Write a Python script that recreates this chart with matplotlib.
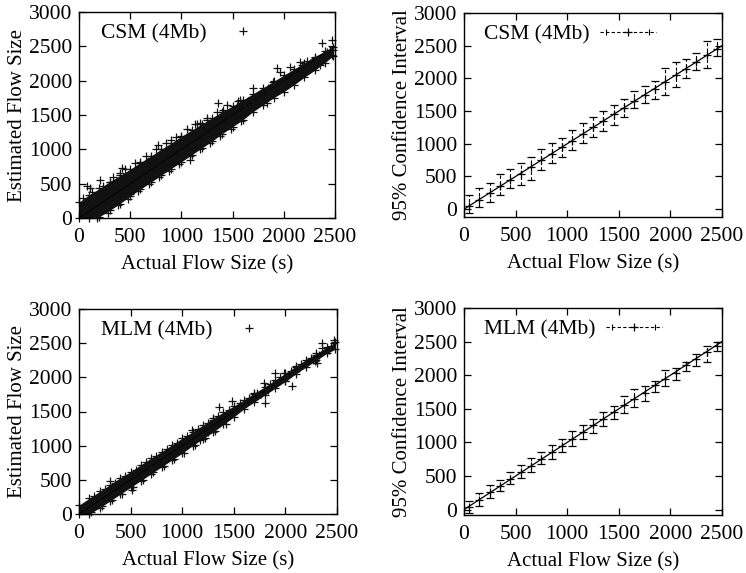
import numpy as np
import matplotlib.pyplot as plt
from matplotlib.lines import Line2D
from matplotlib.legend_handler import HandlerLine2D, HandlerTuple

plt.rcParams['font.family'] = ['Liberation Serif', 'DejaVu Serif']
plt.rcParams['font.size'] = 15.5
plt.rcParams['axes.labelsize'] = 15

# scatter panels: dense core of the cloud (lower / upper edge) and the loose points around it
band_x = [0, 100, 200, 300, 400, 500, 600, 700, 800, 900, 1000, 1100, 1200,
          1300, 1400, 1500, 1600, 1700, 1800, 1900, 2000, 2100, 2200, 2300, 2400, 2480]

csm_hi = [230, 340, 430, 530, 620, 710, 810, 900, 1000, 1090, 1190, 1280, 1370,
          1460, 1550, 1630, 1720, 1810, 1900, 1990, 2080, 2170, 2260, 2350, 2430, 2490]
csm_lo = [0, 0, 20, 110, 210, 320, 420, 520, 620, 720, 820, 920, 1020,
          1120, 1230, 1330, 1430, 1550, 1650, 1750, 1840, 1940, 2050, 2150, 2260, 2360]
csm_px = [1361, 1084, 1133, 775, 1849, 1930, 1963, 2370, 2467, 2467, 2353, 2158, 2174,
          2093, 1995, 1898, 1800, 1702, 1686, 1572, 1507, 1475, 1410, 1247, 1182, 1833, 2060,
          2256, 2305, 2240, 2028, 1930, 1735, 1621, 1540, 75, 107, 400, 417, 205, 42, 2420,
          2480, 2300, 2200, 2120, 1760, 1650, 1870, 300, 600, 900, 1000, 700, 500,
          130, 230, 330, 450, 550, 650, 750, 850, 950, 1050, 1150, 1250, 1350, 1450, 1550,
          180, 280, 380, 480, 580, 680, 780, 880, 980, 1080, 1180, 1280, 1380, 1480, 1580,
          1650, 1720, 1780, 1860, 1920, 1980, 2040, 2110, 2180, 2230, 2280, 2340, 2400, 2450]
csm_py = [1672, 848, 1372, 1066, 1890, 2181, 2133, 2545, 2593, 2375, 2230, 2278, 2230,
          2012, 1963, 1987, 1793, 1890, 1721, 1721, 1575, 1478, 1575, 1430, 1381, 1672, 2205,
          2254, 2327, 2157, 1939, 1866, 1769, 1624, 1624, 460, 436, 654, 727, 557, 290, 2420,
          2450, 2250, 2130, 2060, 1700, 1590, 1800, 520, 800, 1130, 1180, 880, 350,
          380, 460, 590, 720, 800, 900, 1000, 1090, 1180, 1290, 1370, 1460, 1540, 1640, 1710,
          0, 80, 190, 270, 390, 490, 590, 690, 790, 900, 1000, 1090, 1200, 1300, 1410,
          1700, 1660, 1760, 1830, 1920, 1890, 2000, 2080, 2130, 2280, 2200, 2300, 2350, 2440]

mlm_hi = [130, 230, 330, 430, 530, 620, 720, 820, 910, 1010, 1110, 1200, 1300,
          1400, 1490, 1580, 1670, 1770, 1860, 1960, 2060, 2160, 2260, 2350, 2440, 2510]
mlm_lo = [0, 0, 90, 190, 290, 390, 490, 590, 690, 790, 890, 1000, 1100,
          1200, 1310, 1420, 1540, 1640, 1740, 1840, 1940, 2050, 2150, 2250, 2350, 2410]
mlm_px = [1352, 1805, 1788, 2063, 2354, 2354, 2468, 2290, 2306, 2209, 1983, 1902, 1724,
          1562, 1481, 301, 511, 1174, 1093, 2400, 2440, 2250, 2150, 2050, 1950, 1850, 1700,
          1650, 2000, 2100, 2300, 1300, 1250, 900, 800, 700, 400, 200, 100,
          150, 250, 350, 450, 550, 650, 750, 850, 950, 1050, 1150, 1250, 1350, 1450,
          120, 220, 320, 420, 520, 620, 720, 820, 920, 1020, 1120, 1220, 1320, 1420,
          1550, 1620, 1680, 1760, 1830, 1880, 1940, 2020, 2080, 2130, 2200, 2270, 2330, 2420]
mlm_py = [1566, 1624, 1917, 1868, 2502, 2429, 2551, 2234, 2210, 2210, 2063, 2063, 1771,
          1624, 1649, 478, 356, 1088, 1234, 2380, 2460, 2290, 2190, 2100, 2010, 1900, 1760,
          1700, 1950, 2150, 2330, 1380, 1200, 960, 880, 690, 480, 260, 180,
          260, 360, 460, 560, 650, 760, 850, 950, 1040, 1140, 1240, 1330, 1440, 1520,
          30, 120, 210, 300, 400, 500, 610, 700, 800, 900, 1010, 1110, 1210, 1320,
          1560, 1620, 1700, 1760, 1820, 1900, 1950, 2000, 2090, 2140, 2190, 2260, 2320, 2400]

# confidence interval panels
ci_x = [50, 150, 250, 350, 450, 550, 650, 750, 850, 950, 1050, 1150, 1250,
        1350, 1450, 1550, 1650, 1750, 1850, 1950, 2050, 2150, 2250, 2350, 2450]
csm_mean = [45, 145, 250, 355, 445, 545, 650, 750, 845, 945, 1045, 1150, 1255,
            1350, 1450, 1545, 1650, 1745, 1840, 1945, 2050, 2150, 2245, 2350, 2450]
csm_up = [215, 317, 404, 537, 608, 710, 802, 915, 1007, 1083, 1211, 1313, 1415,
          1502, 1594, 1686, 1814, 1886, 1967, 2156, 2248, 2299, 2386, 2565, 2601]
csm_dn = [-66, 26, 112, 215, 317, 368, 445, 598, 700, 802, 904, 1017, 1109,
          1201, 1288, 1415, 1543, 1630, 1691, 1748, 1865, 2003, 2121, 2156, 2335]
mlm_mean = [45, 150, 255, 355, 455, 555, 655, 755, 855, 950, 1055, 1155, 1255,
            1355, 1450, 1560, 1650, 1740, 1850, 1950, 2040, 2150, 2240, 2340, 2440]
mlm_up = [125, 249, 359, 448, 558, 658, 772, 857, 957, 1046, 1171, 1256, 1355,
          1455, 1545, 1694, 1794, 1844, 1918, 2083, 2103, 2202, 2317, 2442, 2501]
mlm_dn = [-50, 60, 174, 274, 374, 473, 558, 673, 757, 857, 947, 1046, 1146,
          1246, 1345, 1445, 1520, 1619, 1744, 1844, 1933, 2068, 2142, 2192, 2367]

fig = plt.figure(figsize=(7.46, 5.73), dpi=100)
W, H = 746, 573


def add_ax(l, t, r, b):
    return fig.add_axes([l / W, 1 - b / H, (r - l) / W, (b - t) / H])


def style(ax, ylim):
    ax.set_xlim(0, 2500)
    ax.set_ylim(*ylim)
    ax.set_xticks([0, 500, 1000, 1500, 2000, 2500])
    ax.set_yticks([0, 500, 1000, 1500, 2000, 2500, 3000])
    ax.tick_params(direction='in', top=True, right=True, length=5, width=0.9, pad=5)
    ax.tick_params(axis='x', pad=7)
    for s in ax.spines.values():
        s.set_linewidth(1.0)
    ax.set_xlabel('Actual Flow Size (s)', labelpad=6)


def scatter_panel(ax, name, lo, hi, px, py):
    ax.axline((0, 0), slope=1, color='k', lw=0.6)
    ax.fill_between(band_x, lo, hi, color='#111111', lw=0)
    kw = dict(ls='none', marker='+', color='#111111', ms=6, mew=0.9, clip_on=False)
    ax.plot(band_x, lo, **kw)
    ax.plot(band_x, hi, **kw)
    pts, = ax.plot(px, py, label=name, **kw)
    style(ax, (0, 3000))
    ax.set_ylabel('Estimated Flow Size', labelpad=1)
    ax.legend(handles=[pts], loc='upper left', bbox_to_anchor=(0.04, 1.0), markerfirst=False,
              frameon=False, handlelength=2.6, handletextpad=0.4, borderaxespad=0.15,
              numpoints=1)


def ci_panel(ax, name, mean, up, dn, ylim):
    ax.axline((0, 0), slope=1, color='k', lw=0.9)
    m = np.array(mean)
    err = [m - np.array(dn), np.array(up) - m]
    eb = ax.errorbar(ci_x, mean, yerr=err, fmt='+', color='k', ms=6, mew=0.9,
                     elinewidth=0.8, capsize=3, capthick=0.8)
    eb[2][0].set_linestyle((0, (3, 2)))
    style(ax, ylim)
    ax.set_ylabel('95% Confidence Interval', labelpad=1)
    dash = Line2D([], [], color='k', lw=0.8, ls=(0, (3, 2)))
    caps = Line2D([], [], color='k', ls='none', marker='|', ms=5, mew=0.8)
    plus = Line2D([], [], color='k', ls='none', marker='+', ms=6, mew=0.9)
    ax.legend(handles=[(dash, caps, plus)], labels=[name], loc='upper left',
              bbox_to_anchor=(0.03, 1.0), markerfirst=False, frameon=False,
              handlelength=2.6, handletextpad=0.5, borderaxespad=0.15, numpoints=1,
              handler_map={tuple: HandlerTuple(ndivide=1),
                           caps: HandlerLine2D(numpoints=2)})


ax1 = add_ax(79, 12, 335, 218)
scatter_panel(ax1, 'CSM (4Mb)', csm_lo, csm_hi, csm_px, csm_py)
ax2 = add_ax(464, 13, 722, 217)
ci_panel(ax2, 'CSM (4Mb)', csm_mean, csm_up, csm_dn, (-120, 3000))
ax3 = add_ax(79, 309, 337, 514)
scatter_panel(ax3, 'MLM (4Mb)', mlm_lo, mlm_hi, mlm_px, mlm_py)
ax4 = add_ax(464, 308, 722, 515)
ci_panel(ax4, 'MLM (4Mb)', mlm_mean, mlm_up, mlm_dn, (-80, 3000))

fig.savefig('out.png', dpi=100)
